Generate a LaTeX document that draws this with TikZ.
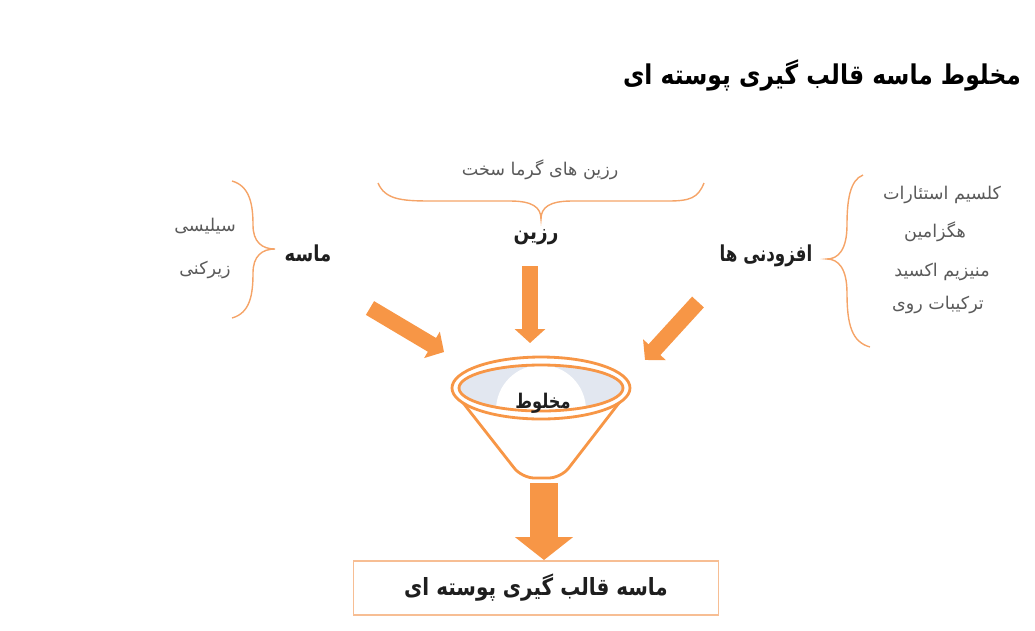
\documentclass[tikz,border=0pt]{standalone}
\usepackage{fontspec}
\usepackage{graphicx}
\usetikzlibrary{arrows.meta, positioning}
\TeXXeTstate=1
\newfontfamily\arabicfont[Script=Arabic]{DejaVu Sans}
\newcommand{\fabold}[2]{\scalebox{#1}[1]{\arabicfont\bfseries #2}}
\definecolor{corange}{HTML}{F79646}
\definecolor{cbrace}{HTML}{F5A468}
\definecolor{cbox}{HTML}{F7BE94}
\definecolor{cbowl}{HTML}{E2E7F0}
\definecolor{cgrey}{HTML}{5A5A5A}
\definecolor{cdark}{HTML}{1E1E1E}
\tikzset{
  every picture/.style={line width=1.2pt},
  brace/.style={draw=cbrace, line width=0.8pt},
  fat/.style={draw=corange, line width=#1},
  fat/.default=0.32cm,
  smallhead/.style={-{Triangle[width=0.6cm, length=0.28cm]}},
  bighead/.style={-{Triangle[width=1.14cm, length=0.46cm]}},
  label/.style={text=cgrey, font=\arabicfont\fontsize{10}{12}\selectfont},
  heading/.style={text=cdark, font=\fontsize{12.5}{15}\selectfont},
}
\begin{document}
\begin{tikzpicture}[x=0.02cm, y=-0.02cm]
  \useasboundingbox (0,0) rectangle (1035,630);
  % title
  \node[anchor=east, inner sep=0pt, text=black, font=\fontsize{15.5}{19}\selectfont] (title) at (1022,75) {\fabold{0.86}{\beginR مخلوط ماسه قالب گیری پوسته ای\endR}};

  % resin
  \node[label] (resinkind) at (540,170) {\beginR رزین های گرما سخت\endR};
  \draw[brace] (378,183) .. controls (385,199) and (400,201) .. (430,201) -- (510,201)
    .. controls (532,201) and (541,207) .. (541,219)
    .. controls (541,207) and (550,201) .. (572,201) -- (668,201)
    .. controls (690,201) and (698,198) .. (704,183);
  \node[heading] (resin) at (536,237) {\fabold{0.84}{\beginR رزین\endR}};

  % sand
  \node[label] (silica) at (205,226) {\beginR سیلیسی\endR};
  \node[label] (zircon) at (205,270) {\beginR زیرکنی\endR};
  \draw[brace] (232,181) .. controls (250,186) and (253,205) .. (253,225)
    .. controls (253,242) and (262,249) .. (275,249)
    .. controls (262,249) and (253,256) .. (253,273)
    .. controls (253,295) and (250,313) .. (232,318);
  \node[heading] (sand) at (308,253) {\fabold{0.82}{\beginR ماسه\endR}};

  % additives
  \node[label] (stearate) at (942,195) {\beginR کلسیم استئارات\endR};
  \node[label] (hexamine) at (935,232) {\beginR هگزامین\endR};
  \node[label] (magoxide) at (942,272) {\beginR منیزیم اکسید\endR};
  \node[label] (zinc) at (938,305) {\beginR ترکیبات روی\endR};
  \draw[brace] (863,175) .. controls (850,180) and (847,200) .. (847,225)
    .. controls (847,250) and (838,259) .. (827,259)
    .. controls (838,259) and (847,268) .. (847,293)
    .. controls (847,325) and (852,342) .. (870,347);
  \node[heading] (additive) at (766,256) {\fabold{0.76}{\beginR افزودنی ها\endR}};

  % funnel
  \filldraw[draw=corange, fill=white, line width=1.6pt, rounded corners=7pt]
    (453,390) -- (522,478) -- (561,478) -- (629,390);
  \filldraw[draw=corange, fill=white, line width=1.6pt] (541,388) ellipse [x radius=89, y radius=31];
  \fill[cbowl] (541,388) ellipse [x radius=82, y radius=23];
  \begin{scope}
    \clip (541,388) ellipse [x radius=82, y radius=23];
    \fill[white] (541,410) circle [radius=45];
  \end{scope}
  \draw[corange, line width=1.6pt] (541,388) ellipse [x radius=82, y radius=23];
  \node[text=cdark, font=\fontsize{11.5}{14}\selectfont] (mix) at (543,403) {\fabold{0.8}{\beginR مخلوط\endR}};

  % arrows into the funnel
  \coordinate (sandtail) at (370,308);
  \coordinate (sandtip) at (444,352);
  \coordinate (resintail) at (530,266);
  \coordinate (resintip) at (530,343);
  \coordinate (addtail) at (698,302);
  \coordinate (addtip) at (645,360);
  \draw[fat, smallhead] (sandtail) -- (sandtip);
  \draw[fat, smallhead] (resintail) -- (resintip);
  \draw[fat, smallhead] (addtail) -- (addtip);

  % product
  \node[draw=cbox, line width=1.1pt, minimum width=365*0.02cm, minimum height=54*0.02cm,
        text=cdark, font=\fontsize{13.5}{16}\selectfont] (product) at (536,588) {\fabold{0.84}{\beginR ماسه قالب گیری پوسته ای\endR}};
  \coordinate (mixout) at (544,483);
  \draw[fat=0.56cm, bighead] (mixout) -- (mixout |- product.north);
\end{tikzpicture}
\end{document}
